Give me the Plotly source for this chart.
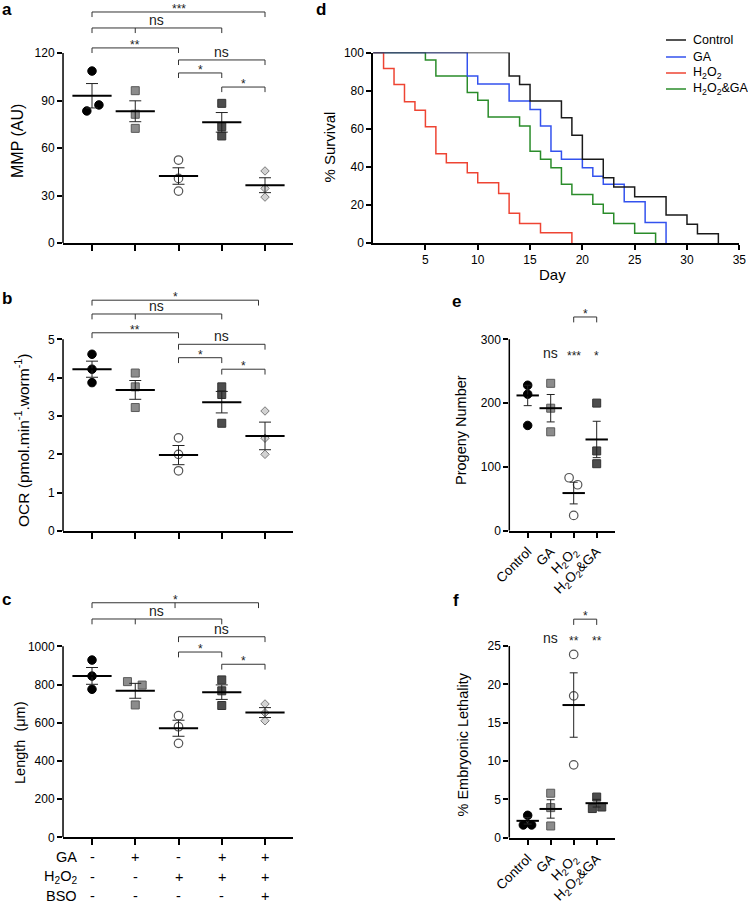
import plotly.graph_objects as go

W, H = 748, 904
FONT = "Liberation Sans, Arial, Helvetica, sans-serif"

# ---------------- DATA ----------------
GROUPS5 = ["Control", "GA", "H2O2", "H2O2&GA", "H2O2&GA&BSO"]
GROUPS4 = ["Control", "GA", "H2O2", "H2O2&GA"]

# Panel a: MMP (AU)
mmp_points = [[108.6, 83.4, 87.2], [96.2, 81.3, 72.4], [52.4, 40.8, 32.8], [88.2, 73.5, 67.6], [45.5, 34.5, 29.0]]
mmp_mean = [93.0, 83.2, 42.3, 76.2, 36.5]
mmp_sem = [7.7, 6.6, 5.2, 6.2, 4.7]

# Panel b: OCR
ocr_points = [[4.61, 4.22, 3.87], [4.12, 3.76, 3.22], [2.43, 2.00, 1.57], [3.76, 3.56, 2.81], [3.13, 2.42, 2.00]]
ocr_mean = [4.22, 3.68, 1.98, 3.36, 2.48]
ocr_sem = [0.21, 0.245, 0.25, 0.28, 0.36]

# Panel c: Length (um)
len_points = [[928, 844, 775], [815, 797, 693], [637, 579, 492], [824, 767, 690], [698, 652, 610]]
len_mean = [845, 767, 571, 760, 653]
len_sem = [44, 39, 42, 38, 26]

# Panel d: survival (Kaplan-Meier steps)
surv_control_day = [0, 13, 14, 15, 18, 19, 20, 22, 23, 25, 28, 30, 31, 33]
surv_control_pct = [100, 87.6, 83.2, 74.5, 65.7, 56.6, 43.9, 34.3, 29.4, 24.3, 14.7, 9.8, 4.9, 0]
surv_ga_day = [0, 9, 10, 13, 15, 16, 17, 18, 20, 21, 22, 24, 26, 28]
surv_ga_pct = [100, 87.6, 83.4, 74.5, 70.1, 61.4, 48.2, 43.9, 39.5, 35.1, 30.8, 21.7, 10.7, 0]
surv_h2o2_day = [0, 1, 2, 3, 4, 5, 6, 7, 9, 10, 12, 13, 14, 16, 19]
surv_h2o2_pct = [100, 91.6, 83.2, 74.1, 69.7, 61.0, 46.8, 42.1, 36.9, 31.6, 26.0, 15.6, 10.3, 5.4, 0]
surv_h2o2ga_day = [0, 5, 6, 9, 10, 11, 14, 15, 16, 17, 18, 19, 21, 22, 23, 25, 27]
surv_h2o2ga_pct = [100, 96.0, 87.7, 79.0, 75.0, 66.1, 61.4, 48.2, 43.9, 39.5, 30.8, 25.5, 20.3, 15.6, 10.3, 5.1, 0]

# Panel e: progeny number
prog_points = [[228, 214, 165], [231, 192, 155], [83, 72, 24], [200, 125, 105]]
prog_mean = [212, 192, 59, 143]
prog_sem = [16, 21.5, 17, 28.5]

# Panel f: % embryonic lethality
emb_points = [[2.92, 1.66, 1.66], [5.8, 3.92, 1.53], [23.9, 18.5, 9.5], [5.3, 3.8, 4.0]]
emb_mean = [2.2, 3.75, 17.3, 4.5]
emb_sem = [0.42, 1.2, 4.2, 0.5]

# Significance labels
sig_a = [(1, 5, 145.9, "***", None), (1, 4, 135.8, "ns", 2), (1, 3, 123.2, "**", None),
         (3, 5, 115.6, "ns", None), (3, 4, 107.4, "*", None), (4, 5, 98.5, "*", None)]
sig_b = [(1, 4.85, 6.02, "*", None), (1, 4, 5.66, "ns", 2), (1, 3, 5.17, "**", None),
         (3, 5, 4.87, "ns", None), (3, 4, 4.52, "*", None), (4, 5, 4.22, "*", None)]
sig_c = [(1, 4.85, 1228, "*", 2.92), (1, 4, 1143, "ns", 2),
         (3, 5, 1050, "ns", None), (3, 4, 970, "*", None), (4, 5, 906, "*", None)]
sig_e_labels = ["", "ns", "***", "*"]
sig_f_labels = ["", "ns", "**", "**"]
sig_e_bracket = [(3, 4, 335, "*", None)]
sig_f_bracket = [(3, 4, 28.5, "*", None)]

table_rows = ["GA", "H<sub>2</sub>O<sub>2</sub>", "BSO"]
table_signs = [["-", "+", "-", "+", "+"], ["-", "-", "+", "+", "+"], ["-", "-", "-", "-", "+"]]
tick4 = ["Control", "GA", "H<sub>2</sub>O<sub>2</sub>", "H<sub>2</sub>O<sub>2</sub>&GA"]

# ---------------- STYLE ----------------
jit_a = [[0, -0.12, 0.16], [0, 0, 0], [0, 0, 0], [0, 0, 0], [0, 0, 0]]
jit_b = [[0, 0, 0]] * 5
jit_c = [[0, 0, 0], [-0.18, 0.16, 0], [0, 0, 0], [0, 0, 0], [0, 0, 0]]
jit_e = [[0, 0, 0], [0, 0, 0], [-0.2, 0.17, 0], [0, 0, 0]]
jit_f = [[0, -0.19, 0.17], [0, 0, 0], [0, 0, 0], [0, -0.19, 0.22]]

MARK = [
    dict(symbol="circle", size=8.5, color="black", line=dict(width=1, color="black")),
    dict(symbol="square", size=8, color="#8c8c8c", line=dict(width=1, color="#5a5a5a")),
    dict(symbol="circle-open", size=8.5, color="#555555", line=dict(width=1.2, color="#555555")),
    dict(symbol="square", size=8, color="#4d4d4d", line=dict(width=1, color="#333333")),
    dict(symbol="diamond", size=6.5, color="#d2d2d2", line=dict(width=1, color="#7a7a7a")),
]


def dom(p0, v0, p1, v1, lo, hi, vertical):
    ppu = (p1 - p0) / (v1 - v0)
    a = p0 + (lo - v0) * ppu
    b = p0 + (hi - v0) * ppu
    if vertical:
        return sorted([1 - a / H, 1 - b / H])
    return sorted([a / W, b / W])


fig = go.Figure()
shapes = []
annots = []

panels = {}
panels["a"] = dict(x=(92, 1, 265, 5), xr=[0.33, 5.64], y=(243, 0, 53, 120), yr=[0, 152], ytop=120)
panels["b"] = dict(x=(92, 1, 265, 5), xr=[0.33, 5.64], y=(531, 0, 339.3, 5), yr=[0, 6.4], ytop=5)
panels["c"] = dict(x=(92, 1, 265, 5), xr=[0.33, 5.64], y=(837.3, 0, 646.3, 1000), yr=[0, 1300], ytop=1000)
panels["d"] = dict(x=(373.1, 0, 739.3, 35), xr=[0, 35], y=(243, 0, 52.5, 100), yr=[0, 100], ytop=100)
panels["e"] = dict(x=(527.7, 1, 596.7, 4), xr=[0.2, 4.8], y=(530.7, 0, 339.3, 300), yr=[0, 350], ytop=300)
panels["f"] = dict(x=(527.7, 1, 596.7, 4), xr=[0.2, 4.8], y=(837.7, 0, 646, 25), yr=[0, 30], ytop=25)
axis_id = {"a": "", "b": "2", "c": "3", "d": "4", "e": "5", "f": "6"}

axis_common = dict(showgrid=False, zeroline=False, ticks="outside", ticklen=6, tickwidth=1.5,
                   tickcolor="black", linecolor="black", linewidth=1.5, automargin=False,
                   tickfont=dict(family=FONT, size=12, color="black"))

ytick = {"a": [0, 30, 60, 90, 120], "b": [0, 1, 2, 3, 4, 5], "c": [0, 200, 400, 600, 800, 1000],
         "d": [0, 20, 40, 60, 80, 100], "e": [0, 100, 200, 300], "f": [0, 5, 10, 15, 20, 25]}

layout_axes = {}
for k, p in panels.items():
    i = axis_id[k]
    xd = dom(p["x"][0], p["x"][1], p["x"][2], p["x"][3], p["xr"][0], p["xr"][1], False)
    yd = dom(p["y"][0], p["y"][1], p["y"][2], p["y"][3], p["yr"][0], p["yr"][1], True)
    xa = dict(axis_common, domain=xd, range=p["xr"], anchor="y" + i, showline=True)
    ya = dict(axis_common, domain=yd, range=p["yr"], anchor="x" + i, tickvals=ytick[k],
              showline=(k == "d"), ticklen=5)
    if k in "abc":
        xa.update(tickvals=[1, 2, 3, 4, 5], showticklabels=False)
    elif k == "d":
        xa.update(tickvals=[5, 10, 15, 20, 25, 30, 35], ticklen=5)
    else:
        xa.update(tickvals=[1, 2, 3, 4], ticktext=tick4, tickangle=-45,
                  tickfont=dict(family=FONT, size=13.5, color="black"))
    layout_axes["xaxis" + i] = xa
    layout_axes["yaxis" + i] = ya
    if k != "d":
        shapes.append(dict(type="line", xref="x" + i + " domain", yref="y" + i, x0=0, x1=0,
                           y0=0, y1=p["ytop"], line=dict(color="black", width=1.5)))


def scatter_panel(k, points, means, sems, jit, cap, meanw):
    i = axis_id[k]
    for g, pts in enumerate(points):
        fig.add_trace(go.Scatter(
            x=[g + 1 + j for j in jit[g]], y=pts, mode="markers", marker=MARK[g],
            xaxis="x" + i, yaxis="y" + i, showlegend=False, cliponaxis=False, hoverinfo="skip"))
    fig.add_trace(go.Scatter(
        x=list(range(1, len(means) + 1)), y=means, mode="markers",
        marker=dict(symbol="line-ew", size=meanw, color="black", line=dict(width=2, color="black")),
        error_y=dict(type="data", array=sems, width=cap, thickness=1, color="#222222"),
        xaxis="x" + i, yaxis="y" + i, showlegend=False, cliponaxis=False, hoverinfo="skip"))


scatter_panel("a", mmp_points, mmp_mean, mmp_sem, jit_a, 6, 28)
scatter_panel("b", ocr_points, ocr_mean, ocr_sem, jit_b, 6, 28)
scatter_panel("c", len_points, len_mean, len_sem, jit_c, 6, 28)
scatter_panel("e", prog_points, prog_mean, prog_sem, jit_e, 4, 16)
scatter_panel("f", emb_points, emb_mean, emb_sem, jit_f, 4, 16)

# survival curves (black drawn last so it sits on top)
surv = [("Control", surv_control_day, surv_control_pct, "#1a1a1a"),
        ("GA", surv_ga_day, surv_ga_pct, "#3352ee"),
        ("H<sub>2</sub>O<sub>2</sub>", surv_h2o2_day, surv_h2o2_pct, "#ee4433"),
        ("H<sub>2</sub>O<sub>2</sub>&GA", surv_h2o2ga_day, surv_h2o2ga_pct, "#2a8c2a")]
for name, dd, pp, col in reversed(surv):
    fig.add_trace(go.Scatter(x=dd, y=pp, mode="lines", line=dict(shape="hv", color=col, width=1.5),
                             name=name, showlegend=False, xaxis="x4", yaxis="y4", hoverinfo="skip"))

# legend for panel d (drawn as keys + labels)
leg_px_y = [40, 57, 73, 89]
for (name, dd, pp, col), yp in zip(surv, leg_px_y):
    shapes.append(dict(type="line", xref="paper", yref="paper", x0=666 / W, x1=686 / W,
                       y0=1 - yp / H, y1=1 - yp / H, line=dict(color=col, width=1.5)))
    annots.append(dict(x=692 / W, y=1 - yp / H, xref="paper", yref="paper", text=name,
                       showarrow=False, xanchor="left", yanchor="middle", borderpad=0,
                       font=dict(family=FONT, size=12.5, color="black")))

# significance brackets
tick_depth = {"a": 3.2, "b": 0.14, "c": 28, "e": 8.5, "f": 0.75}


def brackets(k, specs):
    i = axis_id[k]
    td = tick_depth[k]
    for x1, x2, y, lab, mid in specs:
        path = f"M {x1},{y - td} L {x1},{y} L {x2},{y} L {x2},{y - td}"
        if mid is not None:
            path += f" M {mid},{y} L {mid},{y - td}"
        shapes.append(dict(type="path", xref="x" + i, yref="y" + i, path=path,
                           line=dict(color="#333333", width=1)))
        star = lab.startswith("*")
        annots.append(dict(x=(x1 + x2) / 2, y=y, xref="x" + i, yref="y" + i, text=lab,
                           showarrow=False, yanchor="bottom", yshift=-6 if star else -2,
                           font=dict(family=FONT, size=12 if star else 14, color="#222222")))


brackets("a", sig_a)
brackets("b", sig_b)
brackets("c", sig_c)
brackets("e", sig_e_bracket)
brackets("f", sig_f_bracket)

for k, labs, yv in (("e", sig_e_labels, 279), ("f", sig_f_labels, 26.0)):
    i = axis_id[k]
    for g, lab in enumerate(labs):
        if lab:
            star = lab.startswith("*")
            annots.append(dict(x=g + 1, y=yv, xref="x" + i, yref="y" + i, text=lab, showarrow=False,
                               yanchor="middle", yshift=-3 if star else 0,
                               font=dict(family=FONT, size=12 if star else 14, color="#222222")))

# treatment table under panel c
row_px = [857, 877, 896]
for r, lab in enumerate(table_rows):
    annots.append(dict(x=79 / W, y=1 - row_px[r] / H, xref="paper", yref="paper", text=lab,
                       showarrow=False, xanchor="right", yanchor="middle",
                       font=dict(family=FONT, size=14.5, color="black")))
    for g, s in enumerate(table_signs[r]):
        annots.append(dict(x=g + 1, y=1 - row_px[r] / H, xref="x3", yref="paper", text=s,
                           showarrow=False, xanchor="center", yanchor="middle",
                           font=dict(family=FONT, size=14.5, color="black")))

# axis titles
ytitles = [("MMP (AU)", 18, 141, 16), ("OCR (pmol.min<sup>-1</sup>.worm<sup>-1</sup>)", 22, 441, 15.5),
           ("Length  (\u03bcm)", 20, 743, 14.5), ("% Survival", 329, 147.5, 15),
           ("Progeny Number", 461, 430, 14.5), ("% Embryonic Lethality", 462.5, 745, 14.5)]
for t, xp, yp, fs in ytitles:
    annots.append(dict(x=xp / W, y=1 - yp / H, xref="paper", yref="paper", text=t, textangle=-90,
                       showarrow=False, xanchor="center", yanchor="middle",
                       font=dict(family=FONT, size=fs, color="black")))
annots.append(dict(x=552 / W, y=1 - 274 / H, xref="paper", yref="paper", text="Day", showarrow=False,
                   xanchor="center", yanchor="middle", font=dict(family=FONT, size=15, color="black")))

# panel letters
for t, xp, yp in (("a", 1, 9), ("b", 1, 299), ("c", 1, 599), ("d", 315, 9), ("e", 451, 301), ("f", 452, 600)):
    annots.append(dict(x=xp / W, y=1 - yp / H, xref="paper", yref="paper", text="<b>" + t + "</b>",
                       showarrow=False, xanchor="left", yanchor="middle", borderpad=0,
                       font=dict(family=FONT, size=17, color="black")))

fig.update_layout(
    width=W, height=H, margin=dict(l=0, r=0, t=0, b=0, autoexpand=False),
    paper_bgcolor="white", plot_bgcolor="white", showlegend=False,
    shapes=shapes, annotations=annots,
    **layout_axes,
)

fig.write_html("out.html", config={"displayModeBar": False},
               post_script="document.body.style.margin='0px';document.body.style.overflow='hidden';")
